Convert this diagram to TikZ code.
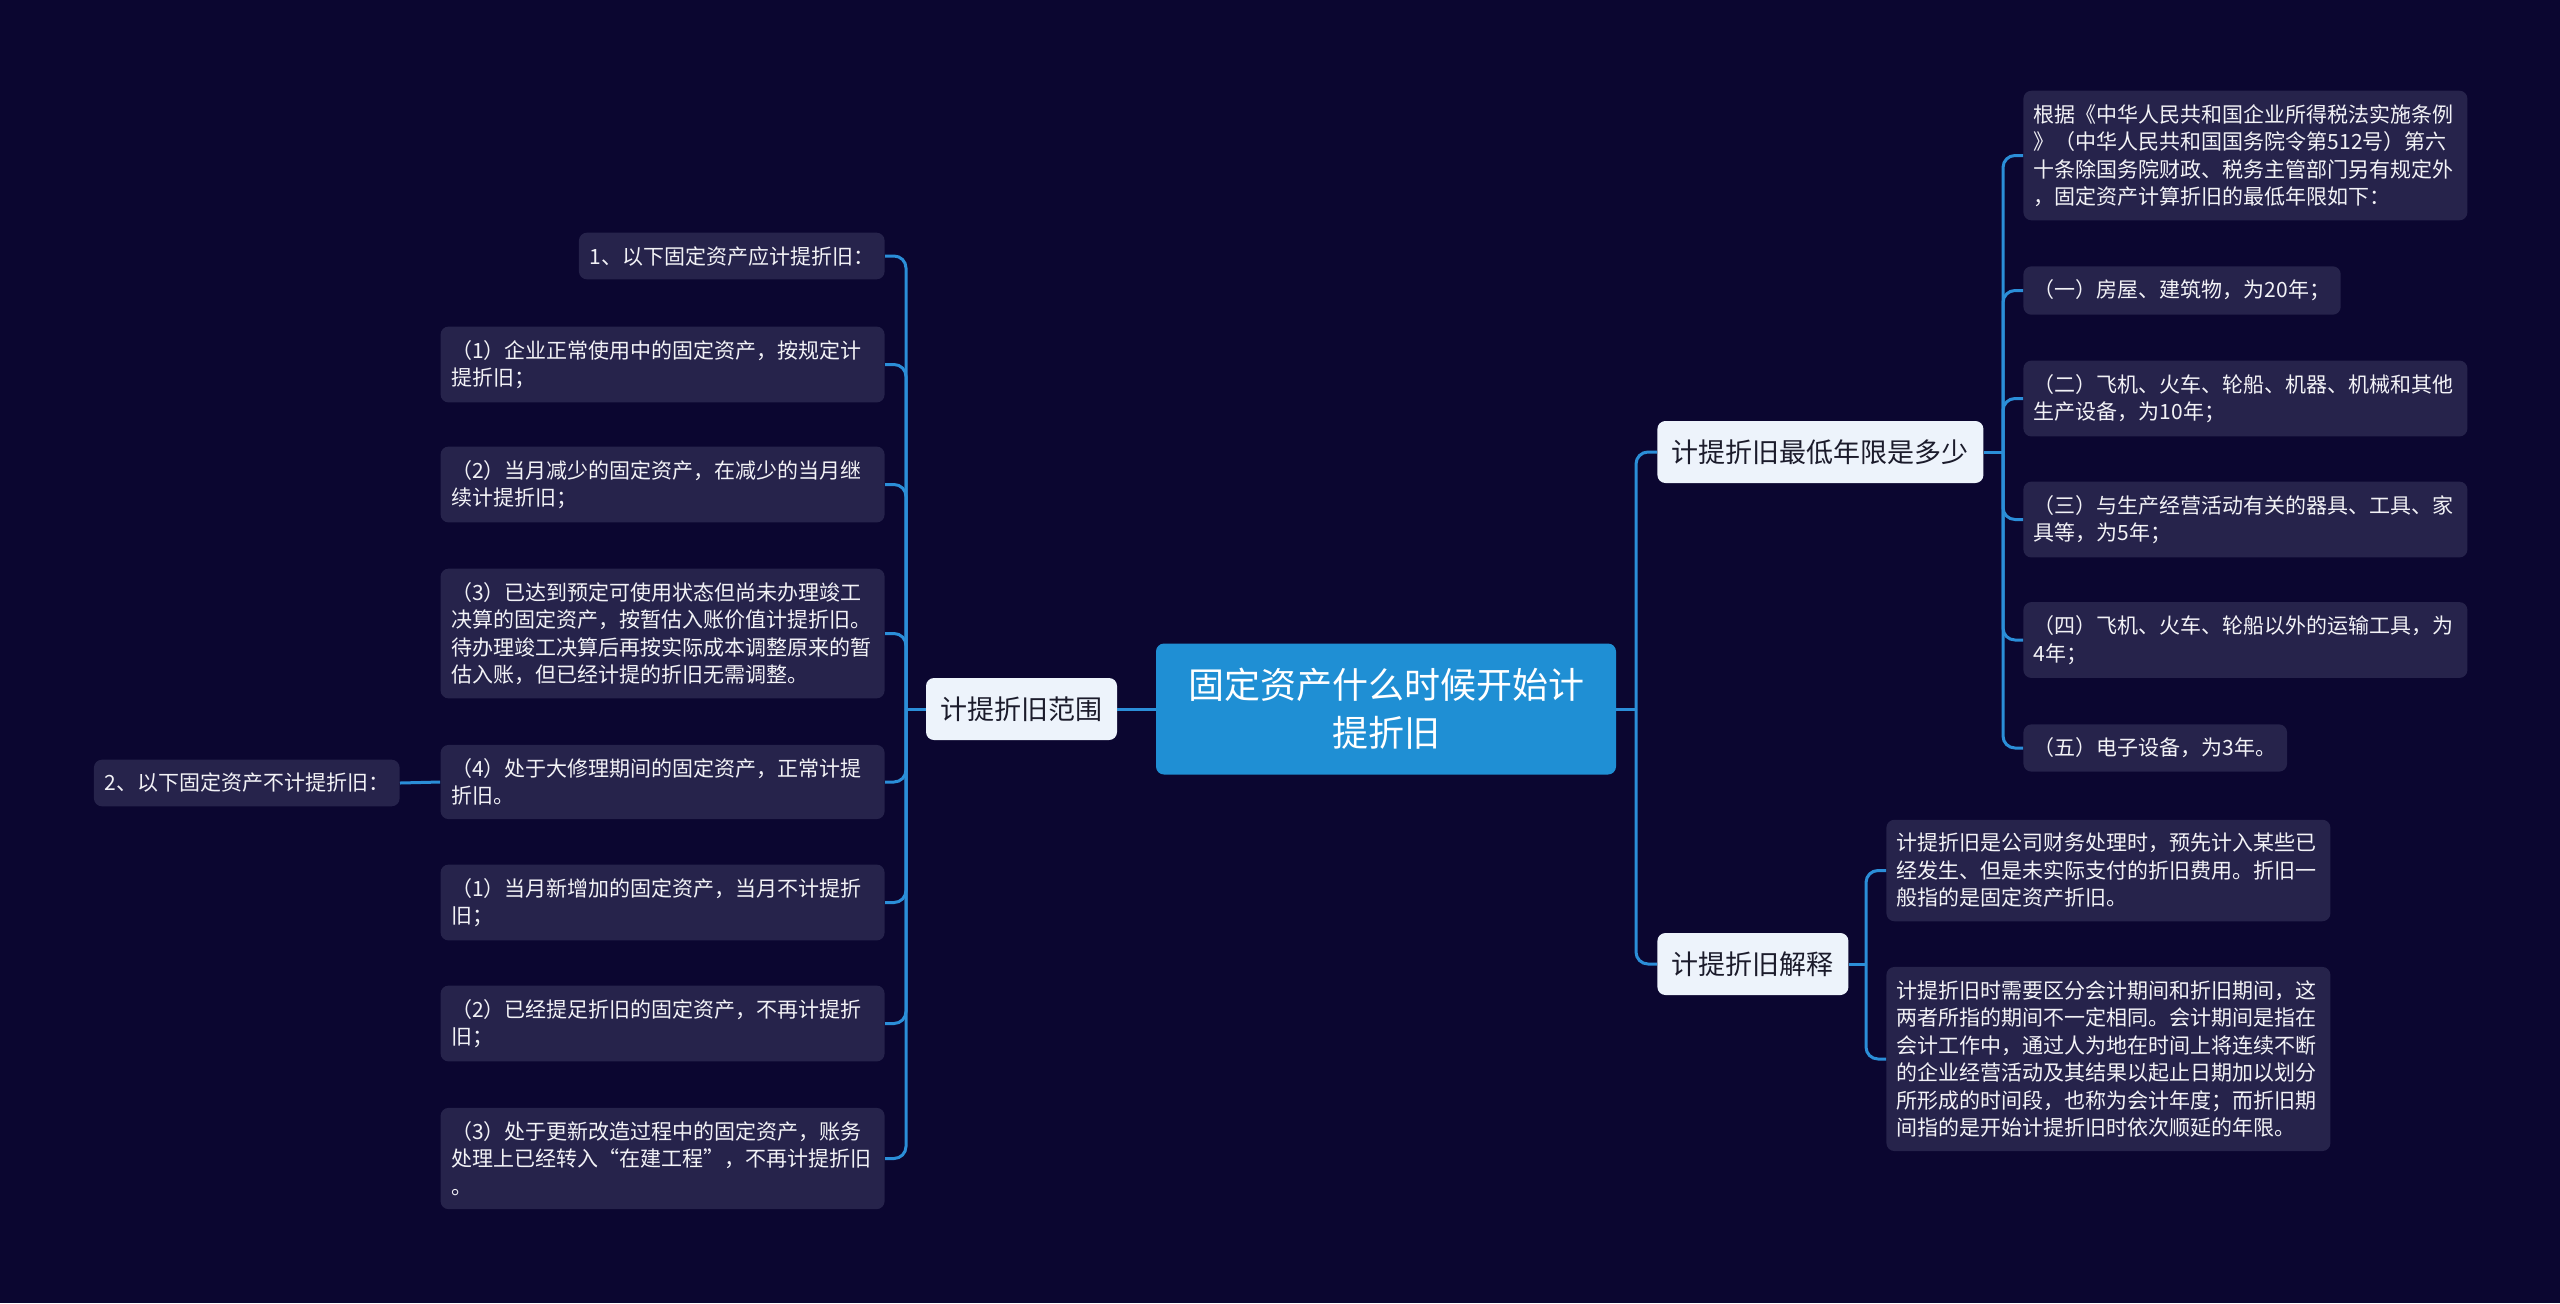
\documentclass[tikz,border=0pt]{standalone}
\usepackage{fontspec}
\setmainfont{Noto Sans CJK SC}
\usepackage{tikz}
\usetikzlibrary{positioning}
\definecolor{bgc}{HTML}{0B0630}
\definecolor{rootc}{HTML}{1F8FD4}
\definecolor{topicc}{HTML}{EDF3FB}
\definecolor{topict}{HTML}{1B1B2B}
\definecolor{leafc}{HTML}{26234B}
\definecolor{leaft}{HTML}{F2F2F6}
\definecolor{linkc}{HTML}{2B8ED8}

\begin{document}
\begin{tikzpicture}[x=0.5pt,y=-0.5pt,root/.style={fill=rootc,text=white,rounded corners=4pt,align=center,minimum width=230pt,minimum height=65.5pt,font=\fontsize{18pt}{24pt}\selectfont},topic/.style={fill=topicc,text=topict,rounded corners=4pt,inner xsep=7.25pt,minimum height=31pt,font=\fontsize{13.5pt}{16pt}\selectfont},leaf/.style={fill=leafc,text=leaft,rounded corners=4pt,inner xsep=5.25pt,inner ysep=6.75pt,align=left,font=\fontsize{10.5pt}{13.75pt}\selectfont},wide/.style={leaf,text width=211.5pt},link/.style={draw=linkc,line width=1.5pt,rounded corners=6pt}]
\fill[bgc] (0,0) rectangle (2560,1303);
\useasboundingbox (0,0) rectangle (2560,1303);
\node[root] (r) at (1386,709) {固定资产什么时候开始计\\提折旧};
\node[topic] (fw) at (1021.5,709) {计提折旧范围};
\node[topic,anchor=west] (nx) at (1657,452) {计提折旧最低年限是多少};
\node[topic,anchor=west] (js) at (1657,964) {计提折旧解释};
% 范围
\node[leaf,anchor=east] (a0) at (885,256) {1、以下固定资产应计提折旧：};
\node[wide,anchor=east] (a1) at (885,364.5) {（1）企业正常使用中的固定资产，按规定计\\提折旧；};
\node[wide,anchor=east] (a2) at (885,484.5) {（2）当月减少的固定资产，在减少的当月继\\续计提折旧；};
\node[wide,anchor=east] (a3) at (885,633.5) {（3）已达到预定可使用状态但尚未办理竣工\\决算的固定资产，按暂估入账价值计提折旧。\\待办理竣工决算后再按实际成本调整原来的暂\\估入账，但已经计提的折旧无需调整。};
\node[wide,anchor=east] (a4) at (885,782) {（4）处于大修理期间的固定资产，正常计提\\折旧。};
\node[wide,anchor=east] (b1) at (885,902.5) {（1）当月新增加的固定资产，当月不计提折\\旧；};
\node[wide,anchor=east] (b2) at (885,1023.5) {（2）已经提足折旧的固定资产，不再计提折\\旧；};
\node[wide,anchor=east] (b3) at (885,1158.5) {（3）处于更新改造过程中的固定资产，账务\\处理上已经转入“在建工程”，不再计提折旧\\。};
\node[leaf,anchor=east] (b0) at (400,783) {2、以下固定资产不计提折旧：};
% 最低年限
\node[wide,anchor=west] (n0) at (2023,155.5) {根据《中华人民共和国企业所得税法实施条例\\》（中华人民共和国国务院令第512号）第六\\十条除国务院财政、税务主管部门另有规定外\\，固定资产计算折旧的最低年限如下：};
\node[leaf,anchor=west] (n1) at (2023,290.5) {（一）房屋、建筑物，为20年；};
\node[wide,anchor=west] (n2) at (2023,398.5) {（二）飞机、火车、轮船、机器、机械和其他\\生产设备，为10年；};
\node[wide,anchor=west] (n3) at (2023,519.5) {（三）与生产经营活动有关的器具、工具、家\\具等，为5年；};
\node[wide,anchor=west] (n4) at (2023,640) {（四）飞机、火车、轮船以外的运输工具，为\\4年；};
\node[leaf,anchor=west] (n5) at (2023,748) {（五）电子设备，为3年。};
% 解释
\node[wide,anchor=west] (j1) at (1886,870.5) {计提折旧是公司财务处理时，预先计入某些已\\经发生、但是未实际支付的折旧费用。折旧一\\般指的是固定资产折旧。};
\node[wide,anchor=west] (j2) at (1886,1059) {计提折旧时需要区分会计期间和折旧期间，这\\两者所指的期间不一定相同。会计期间是指在\\会计工作中，通过人为地在时间上将连续不断\\的企业经营活动及其结果以起止日期加以划分\\所形成的时间段，也称为会计年度；而折旧期\\间指的是开始计提折旧时依次顺延的年限。};
\coordinate (rj) at (1636,709);
\coordinate (fwj) at (906,709);
\coordinate (nxj) at (2003,452);
\coordinate (jsj) at (1866,964);
\draw[link](r.west)--(fw.east);\draw[link](r.east)--(rj);
\draw[link](rj)|-(nx.west);\draw[link](rj)|-(js.west);
\draw[link](fw.west)--(fwj);
\draw[link](fwj)|-(a0.east);\draw[link](fwj)|-(a1.east);\draw[link](fwj)|-(a2.east);\draw[link](fwj)|-(a3.east);
\draw[link](fwj)|-(a4.east);\draw[link](fwj)|-(b1.east);\draw[link](fwj)|-(b2.east);\draw[link](fwj)|-(b3.east);
\draw[link](a4.west)--(b0.east);
\draw[link](nx.east)--(nxj);
\draw[link](nxj)|-(n0.west);\draw[link](nxj)|-(n1.west);\draw[link](nxj)|-(n2.west);
\draw[link](nxj)|-(n3.west);\draw[link](nxj)|-(n4.west);\draw[link](nxj)|-(n5.west);
\draw[link](js.east)--(jsj);
\draw[link](jsj)|-(j1.west);\draw[link](jsj)|-(j2.west);
\end{tikzpicture}
\end{document}
